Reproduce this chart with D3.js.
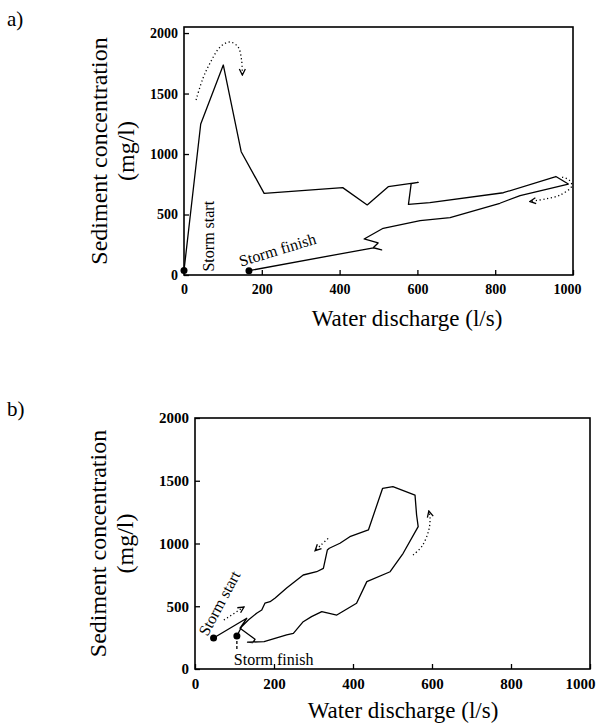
<!DOCTYPE html>
<html>
<head>
<meta charset="utf-8">
<script src="https://cdn.jsdelivr.net/npm/d3@7"></script>
<style>
  body { margin: 0; background: #fff; }
  svg text { font-family: "Liberation Serif", "Times New Roman", serif; }
</style>
</head>
<body>
<div id="chart"></div>
<script>
// values: [water discharge (l/s), sediment (mg/l)]
const loopA = [[0,37],[43,1248],[101,1736],[147,1019],[206,675],[408,722],[471,579],[525,730],
  [602,766],[584,756],[577,584],[632,599],[821,680],[956,814],[988,752],[864,657],[812,593],
  [684,475],[607,449],[512,386],[463,298],[499,265],[487,227],[508,207],[487,225],[167,36]];
const startA = [0, 37];
const finishA = [167, 36];
const arrowsA = [
  [[31,1447],[49,1628],[67,1752],[93,1885],[118,1926],[139,1885],[148,1777],[150,1653]],
  [[972,810],[990,785],[997,736],[967,661],[928,628],[889,608]]
];

const loopB = [[47,247],[131,404],[114,325],[152,237],[146,210],[133,214],[160,216],[175,218],
  [232,271],[249,284],[274,377],[295,417],[321,457],[359,430],[409,524],[435,696],[494,775],
  [527,922],[565,1134],[561,1227],[557,1386],[501,1453],[475,1440],[439,1108],[392,1054],
  [367,1002],[340,962],[335,948],[325,802],[308,775],[274,749],[232,645],[203,566],[190,536],
  [177,524],[169,470],[156,444],[135,390],[118,337],[106,263]];
const startB = [47, 247];
const finishB = [106, 263];
const arrowsB = [
  [[73,390],[124,494]],
  [[337,1041],[319,988],[304,943]],
  [[552,908],[575,980],[592,1108],[595,1203],[592,1259]]
];

const xTicks = [0, 200, 400, 600, 800, 1000];
const yTicks = [0, 500, 1000, 1500, 2000];

const width = 598;
const height = 727;

const svg = d3.select("#chart").append("svg")
    .attr("width", width)
    .attr("height", height);

const defs = svg.append("defs");
defs.append("marker")
    .attr("id", "head")
    .attr("viewBox", "0 0 8 8")
    .attr("refX", 7).attr("refY", 4)
    .attr("markerWidth", 8).attr("markerHeight", 8)
    .attr("markerUnits", "userSpaceOnUse")
    .attr("orient", "auto")
  .append("path")
    .attr("d", "M1,1 L7,4 L1,7")
    .attr("fill", "none")
    .attr("stroke", "#000")
    .attr("stroke-width", 1.3);

function panel(p) {
  const x = d3.scaleLinear().domain([0, 1000]).range(p.xRange);
  const y = d3.scaleLinear().domain([0, p.yMax]).range(p.yRange);
  const g = svg.append("g");

  // panel letter
  g.append("text").attr("x", 7).attr("y", p.letterY)
    .attr("font-size", 21).text(p.letter);

  // axes, ticks pointing into the box
  const xa = g.append("g")
      .attr("transform", `translate(0,${p.yRange[0]})`)
      .call(d3.axisBottom(x).tickValues(xTicks).tickFormat(d3.format("d"))
        .tickSize(-5).tickPadding(9));
  const ya = g.append("g")
      .attr("transform", `translate(${p.xRange[0]},0)`)
      .call(d3.axisLeft(y).tickValues(yTicks).tickFormat(d3.format("d"))
        .tickSize(-5).tickPadding(6));
  [xa, ya].forEach(a => {
    a.select(".domain").remove();
    a.selectAll("line").attr("stroke", "#000").attr("stroke-width", 1.3);
    a.selectAll("text").style("font-weight", "bold")
      .style("font-size", p.tickFont + "px").attr("fill", "#000");
  });
  // last label sits against the frame edge, nudge it inside the page
  xa.selectAll("text").filter(d => d === 1000).attr("dx", p.lastDx);

  // frame
  g.append("rect")
    .attr("x", p.xRange[0]).attr("y", p.yRange[1])
    .attr("width", p.xRange[1] - p.xRange[0])
    .attr("height", p.yRange[0] - p.yRange[1])
    .attr("fill", "none").attr("stroke", "#000").attr("stroke-width", 1.6);

  const line = d3.line(d => x(d[0]), d => y(d[1]));

  g.append("path")
    .attr("d", line(p.loop))
    .attr("fill", "none").attr("stroke", "#000")
    .attr("stroke-width", 1.3).attr("stroke-linejoin", "round");

  p.arrows.forEach(a => {
    g.append("path")
      .attr("d", d3.line(d => x(d[0]), d => y(d[1])).curve(d3.curveCatmullRom)(a))
      .attr("fill", "none").attr("stroke", "#000")
      .attr("stroke-width", 1.3).attr("stroke-dasharray", "1.2,2.6")
      .attr("marker-end", "url(#head)");
  });

  [p.start, p.finish].forEach(d => {
    g.append("circle").attr("cx", x(d[0])).attr("cy", y(d[1])).attr("r", 3.5).attr("fill", "#000");
  });

  // axis titles
  g.append("text")
    .attr("x", p.xTitle[0]).attr("y", p.xTitle[1])
    .attr("text-anchor", "middle").attr("font-size", 23)
    .text("Water discharge (l/s)");
  const cy = (p.yRange[0] + p.yRange[1]) / 2;
  g.append("text")
    .attr("transform", `translate(${p.yTitleX[0]},${cy}) rotate(-90)`)
    .attr("text-anchor", "middle").attr("font-size", 24)
    .text("Sediment concentration");
  g.append("text")
    .attr("transform", `translate(${p.yTitleX[1]},${cy}) rotate(-90)`)
    .attr("text-anchor", "middle").attr("font-size", 24)
    .text("(mg/l)");

  return {g, x, y};
}

// a)
const A = panel({
  letter: "a)", letterY: 26,
  xRange: [184, 573], yRange: [275, 27], yMax: 2050,
  loop: loopA, start: startA, finish: finishA, arrows: arrowsA,
  tickFont: 14, lastDx: -6, xTitle: [407, 326], yTitleX: [107, 134]
});
A.g.append("text")
  .attr("transform", `translate(${A.x(startA[0]) + 30},${A.y(startA[1]) + 1}) rotate(-90)`)
  .attr("font-size", 16).text("Storm start");
A.g.append("text")
  .attr("transform", `translate(${A.x(finishA[0]) - 8},${A.y(finishA[1]) - 4}) rotate(-17)`)
  .attr("font-size", 16).text("Storm finish");

// b)
const B = panel({
  letter: "b)", letterY: 416,
  xRange: [195, 590], yRange: [669, 418], yMax: 2000,
  loop: loopB, start: startB, finish: finishB, arrows: arrowsB,
  tickFont: 15, lastDx: -10, xTitle: [403, 718], yTitleX: [106, 133]
});
B.g.append("text")
  .attr("transform", `translate(${B.x(startB[0]) - 6},${B.y(startB[1]) - 1}) rotate(-62)`)
  .attr("font-size", 16).text("Storm start");
B.g.append("line")
  .attr("x1", B.x(finishB[0])).attr("x2", B.x(finishB[0]))
  .attr("y1", B.y(finishB[1]) + 5).attr("y2", B.y(finishB[1]) + 13)
  .attr("stroke", "#000").attr("stroke-width", 1.3).attr("stroke-dasharray", "3,2");
B.g.append("text")
  .attr("x", B.x(finishB[0]) - 3).attr("y", B.y(finishB[1]) + 29)
  .attr("font-size", 16).text("Storm finish");
</script>
</body>
</html>
